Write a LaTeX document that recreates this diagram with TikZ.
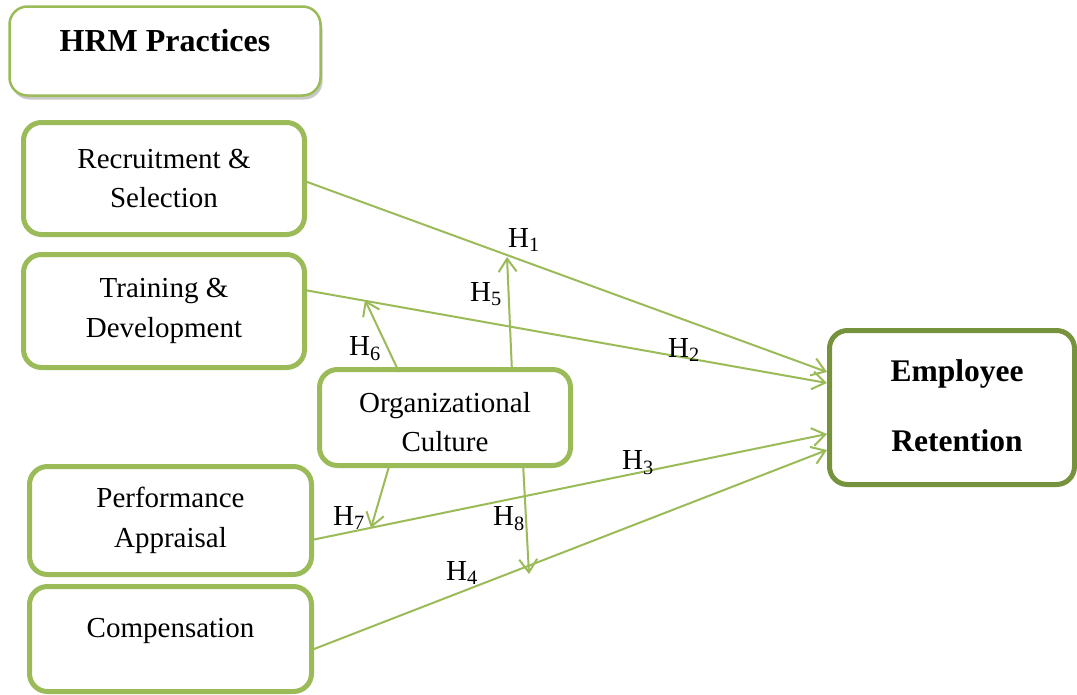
\documentclass[tikz,border=0pt]{standalone}
\usepackage{fontspec}
\setmainfont{Liberation Serif}
\usetikzlibrary{arrows.meta,shadows,calc}
\definecolor{lg}{HTML}{9BBB59}
\definecolor{dg}{HTML}{76923C}
\begin{document}
\begin{tikzpicture}[x=1pt,y=-1pt,
  box/.style={draw=lg, line width=5pt, rounded corners=18pt, fill=white, inner sep=0pt, outer sep=0pt, align=center, font=\fontsize{29}{39.5}\selectfont},
  bigbox/.style={box, draw=dg},
  plain/.style={inner sep=0pt, outer sep=0pt, align=center, font=\fontsize{29}{39.5}\selectfont},
  bold/.style={inner sep=0pt, outer sep=0pt, align=center, font=\fontsize{31.5}{70}\selectfont\bfseries},
  arr/.style={draw=lg, line width=2pt, -{Straight Barb[length=13pt,width=18pt]}},
  lab/.style={anchor=west, inner sep=0pt, font=\fontsize{29}{30}\selectfont}]
\useasboundingbox (0,0) rectangle (1077,694);
\fill[white] (0,0) rectangle (1077,694);

% arrow end points
\coordinate (t1) at (827,372);
\coordinate (t2) at (827,383);
\coordinate (t3) at (827,434);
\coordinate (t4) at (827,450);
\coordinate (t5) at (507,257);
\coordinate (t6) at (365,300);
\coordinate (t7) at (371,528);
\coordinate (t8) at (529,574);

% boxes
\node[box, minimum width=281pt, minimum height=112pt] (rec) at (164,178.5) {Recruitment \&\\Selection};
\node[box, minimum width=281pt, minimum height=113pt] (trn) at (164,311) {Training \&\\Development};
\node[box, minimum width=282pt, minimum height=108pt] (per) at (170.5,520.5) {Performance\\Appraisal};
\node[box, minimum width=282pt, minimum height=105pt] (com) at (170.5,639) {};
\node[plain, anchor=base] (comtext) at (170.5,637) {Compensation};
\node[bigbox, minimum width=245pt, minimum height=154pt] (emp) at (952,407.5) {};
\node[bold] (emptext) at (957,406) {Employee\\Retention};
\node[draw=lg, line width=2.5pt, rounded corners=18pt, fill=white, inner sep=0pt, outer sep=0pt,
      drop shadow={shadow xshift=2pt, shadow yshift=-4pt, opacity=0.3, fill=black!70},
      minimum width=311pt, minimum height=89pt] (hrm) at (165,51) {};
\node[bold, font=\fontsize{32}{35}\selectfont\bfseries] (hrmtext) at (165,41) {HRM Practices};

% arrows
\draw[arr] ([yshift=-2.5pt]rec.east) -- (t1);
\draw[arr] ([yshift=21pt]trn.east) -- (t2);
\draw[arr] ([yshift=-19.5pt]per.east) -- (t3);
\draw[arr] ([yshift=-11pt]com.east) -- (t4);

\node[box, minimum width=251pt, minimum height=96pt] (org) at (445,417.5) {};
\node[plain] (orgtext) at (445,422) {Organizational\\Culture};

\draw[arr] ([xshift=67pt,yshift=-2.5pt]org.north) -- (t5);
\draw[arr] ([xshift=-46pt,yshift=-2.5pt]org.north) -- (t6);
\draw[arr] ([xshift=-55pt,yshift=2.5pt]org.south) -- (t7);
\draw[arr] ([xshift=78pt,yshift=2.5pt]org.south) -- (t8);

% labels
\node[lab] (l1) at (508,240) {H\textsubscript{1}};
\node[lab] (l2) at (668,350) {H\textsubscript{2}};
\node[lab] (l3) at (622,463) {H\textsubscript{3}};
\node[lab] (l4) at (446,573) {H\textsubscript{4}};
\node[lab] (l5) at (470,294) {H\textsubscript{5}};
\node[lab] (l6) at (349,349) {H\textsubscript{6}};
\node[lab] (l7) at (333,518) {H\textsubscript{7}};
\node[lab] (l8) at (493,519) {H\textsubscript{8}};
\end{tikzpicture}
\end{document}
